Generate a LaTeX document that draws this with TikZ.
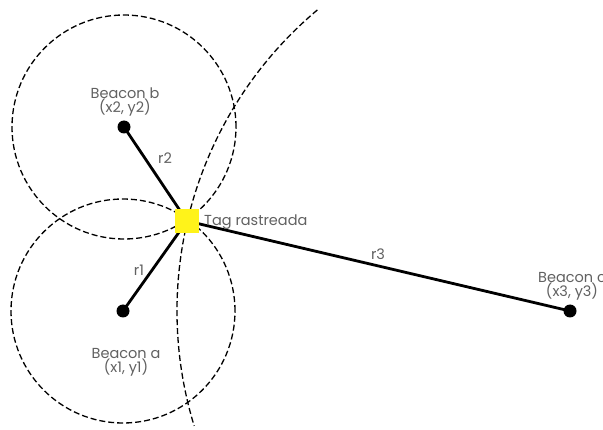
\documentclass[tikz,border=0pt]{standalone}
\usepackage{fontspec}
\setmainfont{Poppins}
\begin{document}
\begin{tikzpicture}[x=1pt,y=1pt,
    lbl/.style={text=black!62, font=\fontsize{14.5}{15}\selectfont, inner sep=0pt, align=center},
    rangering/.style={draw=black, dash pattern=on 6pt off 3pt, line width=1.3pt},
    link/.style={draw=black, line width=2.8pt},
    dot/.style={circle, fill=black, inner sep=0pt, minimum size=13pt},
    tagbox/.style={fill=yellow!90!white, draw=none, minimum size=24pt, inner sep=0pt}]
  % canvas
  \clip (0,0) rectangle (603,429);
  \fill[white] (0,0) rectangle (603,429);

  % beacons and the tracked tag
  \coordinate (pb) at (124,302);
  \coordinate (pa) at (123,118);
  \coordinate (pc) at (570,118);
  \coordinate (pt) at (187,208);

  % range circles
  \draw[rangering] (pb) circle [radius=112pt];
  \draw[rangering] (pa) circle [radius=112pt];
  \draw[rangering] ([shift={(130:393pt)}]pc) arc [start angle=130, end angle=197, radius=393pt];

  % distances to the tag
  \draw[link] (pb) -- (pt);
  \draw[link] (pa) -- (pt);
  \draw[link] (pc) -- (pt);

  \node[dot] (b) at (pb) {};
  \node[dot] (a) at (pa) {};
  \node[dot] (c) at (pc) {};
  \node[tagbox] (t) at (pt) {};

  % labels
  \node[lbl, anchor=south] (lb) at (125,313) {Beacon b\\[-1pt](x2, y2)};
  \node[lbl, anchor=north] (la) at (126,81) {Beacon a\\[-1pt](x1, y1)};
  \node[lbl, anchor=south] (lc) at (572,129) {Beacon c\\[-1pt](x3, y3)};
  \node[lbl, anchor=west] (lt) at (204,207) {Tag rastreada};
  \node[lbl] (r2) at (165,271) {r2};
  \node[lbl] (r1) at (139,159) {r1};
  \node[lbl] (r3) at (378,175) {r3};
\end{tikzpicture}
\end{document}
